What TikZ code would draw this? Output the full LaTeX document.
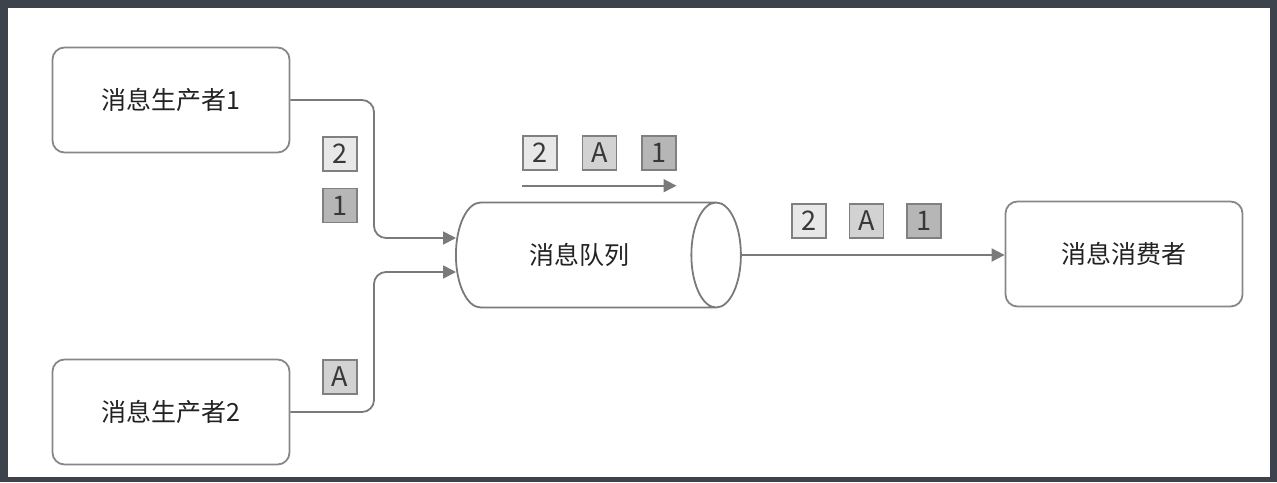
\documentclass[tikz,border=0pt]{standalone}
\usepackage{fontspec}
\setmainfont{Noto Sans CJK SC}
\usetikzlibrary{arrows.meta, calc, positioning, shapes.geometric}
\definecolor{rahmen}{HTML}{3D434D}
\definecolor{linie}{HTML}{7A7A7A}
\definecolor{schrift}{HTML}{222222}
\definecolor{hellgrau}{HTML}{E8E8E8}
\definecolor{mittelgrau}{HTML}{D2D2D2}
\definecolor{dunkelgrau}{HTML}{B6B6B6}

\begin{document}
\begin{tikzpicture}[x=0.5pt, y=-0.5pt,
        box/.style={draw=linie!90, line width=0.9pt, rounded corners=6pt,
                     minimum width=118.5pt, minimum height=52.5pt,
                     font=\fontsize{12.5}{15}\selectfont, text=schrift},
        tok/.style={draw=gray, line width=0.7pt, minimum size=17pt, inner sep=0pt,
                     font=\fontsize{13.5}{15}\selectfont, text=schrift!90},
        arr/.style={-{Triangle[length=6.5pt, width=6.5pt]}, line width=0.9pt, linie},
        node distance=12pt
      ]
      % Rahmen
      \fill[rahmen] (0,0) rectangle (1277,482);
      \fill[white] (8,8) rectangle (1270,477);

      \node[box] (prod1) at (171,100) {消息生产者1};
      \node[box] (prod2) at (171,412) {消息生产者2};
      \node[box] (cons)  at (1124,254) {消息消费者};
      \node[cylinder, draw=linie, line width=0.9pt, aspect=1.35,
            minimum width=52.5pt, minimum height=142.5pt, anchor=west,
            font=\fontsize{12.5}{15}\selectfont, text=schrift] (queue) at (455,255) {消息队列};

      % Eingänge
      \coordinate (ein1) at ($(queue.west)+(1,-17)$);
      \coordinate (ein2) at ($(queue.west)+(1,17)$);
      \coordinate (knick) at (374,0);
      \draw[arr, rounded corners=6pt] (prod1.east) -| (knick |- ein1) -- (ein1);
      \draw[arr, rounded corners=6pt] (prod2.east) -| (knick |- ein2) -- (ein2);
      \draw[arr] (queue.east) -- (queue.east -| cons.west);

      % Nachrichten
      \node[tok, fill=hellgrau] (t2a) at (340,154) {2};
      \node[tok, fill=dunkelgrau, below=8pt of t2a] (t1a) {1};
      \node[tok, fill=mittelgrau] (tAa) at (340,377) {A};

      \node[tok, fill=hellgrau] (t2b) at (540,153) {2};
      \node[tok, fill=mittelgrau, right=of t2b] (tAb) {A};
      \node[tok, fill=dunkelgrau, right=of tAb] (t1b) {1};

      \node[tok, fill=hellgrau] (t2c) at (809,221) {2};
      \node[tok, fill=mittelgrau, right=11pt of t2c] (tAc) {A};
      \node[tok, fill=dunkelgrau, right=11pt of tAc] (t1c) {1};

      \coordinate[below=7.5pt of t2b.south west] (flussA);
      \coordinate[below=7.5pt of t1b.south east] (flussB);
      \draw[arr] (flussA) -- (flussB);
    \end{tikzpicture}
\end{document}
